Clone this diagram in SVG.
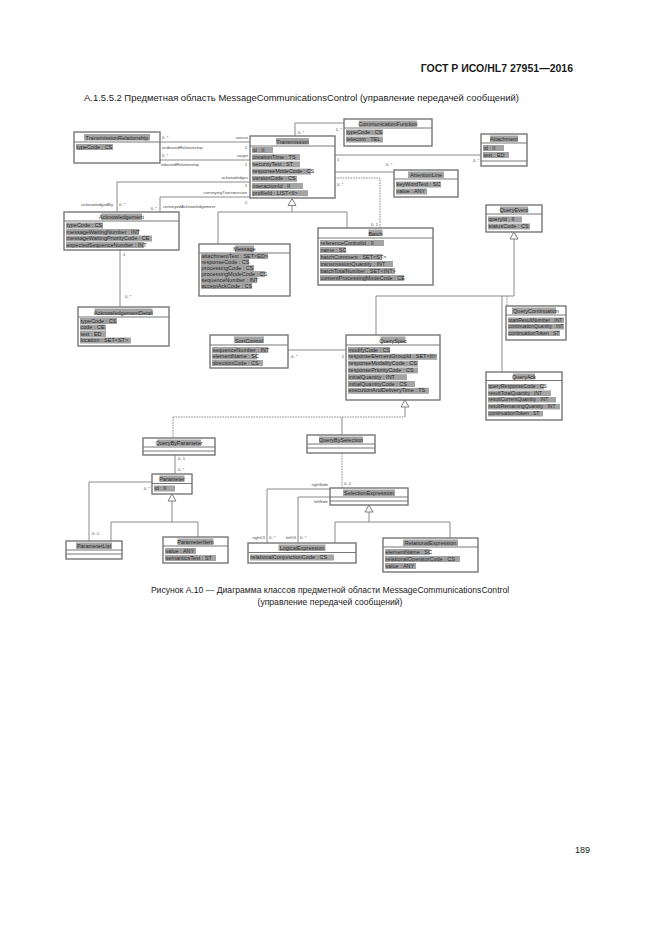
<svg xmlns="http://www.w3.org/2000/svg" width="661" height="935" viewBox="0 0 661 935">
<style>
.bg{fill:#ffffff}
.b{fill:#ffffff;stroke:#767676;stroke-width:1.4}
.s{stroke:#767676;stroke-width:1}
.hl{fill:#a4a4a4}
.t{font-family:"Liberation Sans",Arial,sans-serif;font-size:5.5px;fill:#262626}
.t5{font-family:"Liberation Sans",Arial,sans-serif;font-size:5px;fill:#262626}
.n{font-family:"Liberation Sans",Arial,sans-serif;font-size:5.5px;fill:#262626;text-anchor:middle}
.c{fill:none;stroke:#7e7e7e;stroke-width:0.9}
.d{stroke-dasharray:1.6 1}
.l{font-family:"Liberation Sans",Arial,sans-serif;font-size:4.2px;fill:#4a4a4a}
.le{font-family:"Liberation Sans",Arial,sans-serif;font-size:4.2px;fill:#4a4a4a;text-anchor:end}
.tri{fill:#ffffff;stroke:#707070;stroke-width:0.9}
.doc{font-family:"Liberation Sans",Arial,sans-serif;fill:#1a1a1a}
</style>
<rect class="bg" x="0" y="0" width="661" height="935"/>

<text class="doc" x="573" y="72" font-size="10.5" font-weight="bold" text-anchor="end">ГОСТ Р ИСО/HL7 27951—2016</text>
<text class="doc" x="84" y="101" font-size="8.6" textLength="435" lengthAdjust="spacingAndGlyphs">A.1.5.5.2 Предметная область MessageCommunicationsControl (управление передачей сообщений)</text>

<g id="connectors">
<path class="c" d="M160 142H250"/>
<path class="c" d="M160 160H250"/>
<path class="c" d="M250 182H117V212"/>
<path class="c" d="M250 197H160V212"/>
<path class="c" d="M120 250V307"/>
<path class="c" d="M295 136V123H344"/>
<path class="c" d="M335 155H481"/>
<path class="c" d="M335 172H394"/>
<path class="c d" d="M335 178H380V228"/>
<polygon class="tri" points="292,198.5 288,205.5 296,205.5"/>
<path class="c" d="M292 205.5V212M218 212H347M218 212V244M347 212V228"/>
<polygon class="tri" points="514,232 510,239 518,239"/>
<path class="c" d="M514 239V296H376V335"/>
<path class="c d" d="M507 296V306"/>
<path class="c" d="M502 296V372"/>
<path class="c" d="M288 350H346"/>
<polygon class="tri" points="405,400 401,407 409,407"/>
<path class="c" d="M405 407V417"/>
<path class="c d" d="M173 417H405M173 417V438"/>
<path class="c" d="M342 417V435"/>
<path class="c" d="M175 455V474"/>
<polygon class="tri" points="172,494 168,501 176,501"/>
<path class="c" d="M172 501V522M111 522H198M111 522V541M198 522V537"/>
<path class="c" d="M152 482H89V541"/>
<path class="c d" d="M342 453V488"/>
<path class="c" d="M330 489H267V543"/>
<path class="c" d="M330 497H298V543"/>
<polygon class="tri" points="369,505 365,512 373,512"/>
<path class="c" d="M369 512V522M335 522H450M335 522V543M450 522V538"/>

<text class="l" x="162" y="139">0..*</text>
<text class="le" x="248" y="139">source</text>
<text class="l" x="162" y="148.5">outboundRelationship</text>
<text class="le" x="247" y="148.5">1</text>
<text class="l" x="162" y="157">0..*</text>
<text class="le" x="248" y="157">target</text>
<text class="l" x="161" y="166">inboundRelationship</text>
<text class="le" x="247" y="166">1</text>
<text class="le" x="248" y="179">acknowledges</text>
<text class="le" x="247" y="187">1</text>
<text class="le" x="113" y="205.5">acknowledgedBy</text>
<text class="l" x="119" y="205.5">0..*</text>
<text class="le" x="247" y="194">conveyingTransmission</text>
<text class="le" x="247" y="203.5">1</text>
<text class="le" x="157" y="209.5">0..*</text>
<text class="l" x="163" y="208">conveyedAcknowledgement</text>
<text class="l" x="123" y="256">1</text>
<text class="l" x="125" y="298">0..*</text>
<text class="l" x="298" y="134">0..*</text>
<text class="le" x="342" y="131">1..*</text>
<text class="l" x="337" y="161">1</text>
<text class="l" x="473" y="162">0..*</text>
<text class="l" x="386" y="166">0..*</text>
<text class="l" x="337" y="186">0..*</text>
<text class="le" x="378" y="226">0..1</text>
<text class="l" x="291" y="358">0..*</text>
<text class="le" x="344" y="358">1</text>
<text class="l" x="178" y="460">0..1</text>
<text class="l" x="178" y="471">0..*</text>
<text class="le" x="150" y="490">0..*</text>
<text class="l" x="92" y="535">0..1</text>
<text class="le" x="328" y="486">rightSide</text>
<text class="l" x="344" y="485">0..1</text>
<text class="le" x="328" y="503">leftSide</text>
<text class="le" x="265" y="539">rightOf</text>
<text class="l" x="269" y="539">0..*</text>
<text class="le" x="296" y="539">leftOf</text>
<text class="l" x="300" y="539">0..*</text>
</g>

<g id="TransmissionRelationship">
<rect class="b" x="74" y="132" width="86" height="31"/>
<line class="s" x1="74" y1="142" x2="160" y2="142"/>
<rect class="hl" x="84" y="134" width="66" height="6.5"/>
<text class="n" x="117" y="139.5">TransmissionRelationship</text>
<rect class="hl" x="76" y="144" width="37" height="6"/>
<text class="t" x="76.5" y="148.8">typeCode : CS</text>
</g>

<g id="Transmission">
<rect class="b" x="250" y="136" width="85" height="62"/>
<line class="s" x1="250" y1="146" x2="335" y2="146"/>
<rect class="hl" x="276" y="138" width="33" height="6.5"/>
<text class="n" x="292.5" y="143.5">Transmission</text>
<rect class="hl" x="252" y="147" width="21" height="6"/>
<text class="t" x="252.5" y="151.5">id : II</text>
<rect class="hl" x="252" y="154.2" width="48" height="6"/>
<text class="t" x="252.5" y="158.7">creationTime : TS</text>
<rect class="hl" x="252" y="161.4" width="48" height="6"/>
<text class="t" x="252.5" y="165.9">securityText : ST</text>
<rect class="hl" x="252" y="168.6" width="59" height="6"/>
<text class="t" x="252.5" y="173.1">responseModeCode : CS</text>
<rect class="hl" x="252" y="175.8" width="45" height="6"/>
<text class="t" x="252.5" y="180.3">versionCode : CS</text>
<rect class="hl" x="252" y="183" width="51" height="6"/>
<text class="t" x="252.5" y="187.5">interactionId : II</text>
<rect class="hl" x="252" y="190.2" width="56" height="6"/>
<text class="t" x="252.5" y="194.7">profileId : LIST&lt;II&gt;</text>
</g>

<g id="CommunicationFunction">
<rect class="b" x="344" y="119" width="88" height="27"/>
<line class="s" x1="344" y1="128" x2="432" y2="128"/>
<rect class="hl" x="359" y="120.5" width="58" height="6.5"/>
<text class="n" x="388" y="126">CommunicationFunction</text>
<rect class="hl" x="346" y="129.5" width="37" height="6"/>
<text class="t" x="346.5" y="134">typeCode : CS</text>
<rect class="hl" x="346" y="136.5" width="37" height="6"/>
<text class="t" x="346.5" y="141">telecom : TEL</text>
</g>

<g id="Attachment">
<rect class="b" x="481" y="134" width="46" height="32"/>
<line class="s" x1="481" y1="143" x2="527" y2="143"/>
<line class="s" x1="481" y1="161" x2="527" y2="161"/>
<rect class="hl" x="490" y="135.5" width="28" height="6.5"/>
<text class="n" x="504" y="141">Attachment</text>
<rect class="hl" x="483" y="145" width="21" height="6"/>
<text class="t" x="483.5" y="149.5">id : II</text>
<rect class="hl" x="483" y="152" width="26" height="6"/>
<text class="t" x="483.5" y="156.5">text : ED</text>
</g>

<g id="AttentionLine">
<rect class="b" x="394" y="170" width="64" height="27"/>
<line class="s" x1="394" y1="179" x2="458" y2="179"/>
<rect class="hl" x="408" y="171.5" width="36" height="6.5"/>
<text class="n" x="426" y="177">AttentionLine</text>
<rect class="hl" x="396" y="181.5" width="45" height="6"/>
<text class="t" x="396.5" y="186">keyWordText : SC</text>
<rect class="hl" x="396" y="188.5" width="31" height="6"/>
<text class="t" x="396.5" y="193">value : ANY</text>
</g>

<g id="QueryEvent">
<rect class="b" x="486" y="205" width="56" height="27"/>
<line class="s" x1="486" y1="214" x2="542" y2="214"/>
<rect class="hl" x="500" y="206.5" width="28" height="6.5"/>
<text class="n" x="514" y="212">QueryEvent</text>
<rect class="hl" x="488" y="216.5" width="34" height="6"/>
<text class="t" x="488.5" y="221">queryId : II</text>
<rect class="hl" x="488" y="223.5" width="42" height="6"/>
<text class="t" x="488.5" y="228">statusCode : CS</text>
</g>

<g id="Acknowledgement">
<rect class="b" x="64" y="212" width="115" height="38"/>
<line class="s" x1="64" y1="221" x2="179" y2="221"/>
<rect class="hl" x="101" y="213.5" width="41" height="6.5"/>
<text class="n" x="121.5" y="219">Acknowledgement</text>
<rect class="hl" x="66" y="222.5" width="37" height="6"/>
<text class="t" x="66.5" y="227">typeCode : CS</text>
<rect class="hl" x="66" y="229" width="73" height="6"/>
<text class="t" x="66.5" y="233.5">messageWaitingNumber : INT</text>
<rect class="hl" x="66" y="235.5" width="86" height="6"/>
<text class="t" x="66.5" y="240">messageWaitingPriorityCode : CE</text>
<rect class="hl" x="66" y="242" width="78" height="6"/>
<text class="t" x="66.5" y="246.5">expectedSequenceNumber : INT</text>
</g>

<g id="AcknowledgementDetail">
<rect class="b" x="78" y="307" width="91" height="39"/>
<line class="s" x1="78" y1="317" x2="169" y2="317"/>
<rect class="hl" x="94.5" y="308.5" width="58" height="6.5"/>
<text class="n" x="123.5" y="314.5">AcknowledgementDetail</text>
<rect class="hl" x="80" y="318" width="37" height="6"/>
<text class="t" x="80.5" y="322.5">typeCode : CS</text>
<rect class="hl" x="80" y="324.5" width="26" height="6"/>
<text class="t" x="80.5" y="329">code : CE</text>
<rect class="hl" x="80" y="331" width="26" height="6"/>
<text class="t" x="80.5" y="335.5">text : ED</text>
<rect class="hl" x="80" y="337.5" width="51" height="6"/>
<text class="t" x="80.5" y="342">location : SET&lt;ST&gt;</text>
</g>

<g id="Message">
<rect class="b" x="199" y="244" width="91" height="52"/>
<line class="s" x1="199" y1="253" x2="290" y2="253"/>
<rect class="hl" x="235" y="245.5" width="19" height="6.5"/>
<text class="n" x="244.5" y="251">Message</text>
<rect class="hl" x="201" y="253" width="67" height="6"/>
<text class="t" x="201.5" y="257.5">attachmentText : SET&lt;ED&gt;</text>
<rect class="hl" x="201" y="259" width="48" height="6"/>
<text class="t" x="201.5" y="263.5">responseCode : CS</text>
<rect class="hl" x="201" y="265" width="53" height="6"/>
<text class="t" x="201.5" y="269.5">processingCode : CS</text>
<rect class="hl" x="201" y="271" width="64" height="6"/>
<text class="t" x="201.5" y="275.5">processingModeCode : CS</text>
<rect class="hl" x="201" y="277" width="56" height="6"/>
<text class="t" x="201.5" y="281.5">sequenceNumber : INT</text>
<rect class="hl" x="201" y="283" width="51" height="6"/>
<text class="t" x="201.5" y="287.5">acceptAckCode : CS</text>
</g>

<g id="Batch">
<rect class="b" x="318" y="228" width="115" height="57"/>
<line class="s" x1="318" y1="238" x2="433" y2="238"/>
<rect class="hl" x="368.5" y="229.5" width="14" height="6.5"/>
<text class="n" x="375.5" y="235.5">Batch</text>
<rect class="hl" x="320" y="240" width="64" height="6"/>
<text class="t" x="320.5" y="244.5">referenceControlId : II</text>
<rect class="hl" x="320" y="247" width="26" height="6"/>
<text class="t" x="320.5" y="251.5">name : SC</text>
<rect class="hl" x="320" y="254" width="62" height="6"/>
<text class="t" x="320.5" y="258.5">batchComment : SET&lt;ST&gt;</text>
<rect class="hl" x="320" y="261" width="73" height="6"/>
<text class="t" x="320.5" y="265.5">transmissionQuantity : INT</text>
<rect class="hl" x="320" y="268" width="75" height="6"/>
<text class="t" x="320.5" y="272.5">batchTotalNumber : SET&lt;INT&gt;</text>
<rect class="hl" x="320" y="275" width="84" height="6"/>
<text class="t" x="320.5" y="279.5">contentProcessingModeCode : CE</text>
</g>

<g id="QueryContinuation">
<rect class="b" x="506" y="306" width="60" height="34"/>
<line class="s" x1="506" y1="315" x2="566" y2="315"/>
<rect class="hl" x="512" y="307.5" width="44" height="6.5"/>
<text class="n" x="536" y="313">QueryContinuation</text>
<rect class="hl" x="508" y="317.5" width="56" height="5.5"/>
<text class="t5" x="508.5" y="321.5">startResultNumber : INT</text>
<rect class="hl" x="508" y="324" width="56" height="5.5"/>
<text class="t5" x="508.5" y="328" textLength="55" lengthAdjust="spacingAndGlyphs">continuationQuantity : INT</text>
<rect class="hl" x="508" y="330.5" width="52" height="5.5"/>
<text class="t5" x="508.5" y="334.5">continuationToken : ST</text>
</g>

<g id="QueryAck">
<rect class="b" x="486" y="372" width="76" height="48"/>
<line class="s" x1="486" y1="380.5" x2="562" y2="380.5"/>
<rect class="hl" x="513" y="373.5" width="22" height="6"/>
<text class="n" x="524" y="378.5">QueryAck</text>
<rect class="hl" x="488" y="384" width="56" height="5.5"/>
<text class="t5" x="488.5" y="388">queryResponseCode : CS</text>
<rect class="hl" x="488" y="390.5" width="63" height="5.5"/>
<text class="t5" x="488.5" y="394.5">resultTotalQuantity : INT</text>
<rect class="hl" x="488" y="397" width="68" height="5.5"/>
<text class="t5" x="488.5" y="401">resultCurrentQuantity : INT</text>
<rect class="hl" x="488" y="404" width="72" height="5.5"/>
<text class="t5" x="488.5" y="408">resultRemainingQuantity : INT</text>
<rect class="hl" x="488" y="411" width="55" height="5.5"/>
<text class="t5" x="488.5" y="415">continuationToken : ST</text>
</g>

<g id="QuerySpec">
<rect class="b" x="346" y="335" width="94" height="65"/>
<line class="s" x1="346" y1="345" x2="440" y2="345"/>
<rect class="hl" x="380.5" y="336.5" width="25" height="6.5"/>
<text class="n" x="393" y="342.5">QuerySpec</text>
<rect class="hl" x="348" y="347" width="42" height="6"/>
<text class="t" x="348.5" y="351.5">modifyCode : CS</text>
<rect class="hl" x="348" y="353.8" width="89" height="6"/>
<text class="t" x="348.5" y="358.3">responseElementGroupId : SET&lt;II&gt;</text>
<rect class="hl" x="348" y="360.6" width="70" height="6"/>
<text class="t" x="348.5" y="365.1">responseModalityCode : CS</text>
<rect class="hl" x="348" y="367.4" width="70" height="6"/>
<text class="t" x="348.5" y="371.9">responsePriorityCode : CS</text>
<rect class="hl" x="348" y="374.2" width="59" height="6"/>
<text class="t" x="348.5" y="378.7">initialQuantity : INT</text>
<rect class="hl" x="348" y="381" width="67" height="6"/>
<text class="t" x="348.5" y="385.5">initialQuantityCode : CS</text>
<rect class="hl" x="348" y="387.8" width="81" height="6"/>
<text class="t" x="348.5" y="392.3">executionAndDeliveryTime : TS</text>
</g>

<g id="SortControl">
<rect class="b" x="210" y="335" width="78" height="33"/>
<line class="s" x1="210" y1="345" x2="288" y2="345"/>
<rect class="hl" x="234" y="336.5" width="30" height="6.5"/>
<text class="n" x="249" y="342.5">SortControl</text>
<rect class="hl" x="212" y="347" width="56" height="6"/>
<text class="t" x="212.5" y="351.5">sequenceNumber : INT</text>
<rect class="hl" x="212" y="353.5" width="45" height="6"/>
<text class="t" x="212.5" y="358">elementName : SC</text>
<rect class="hl" x="212" y="360" width="51" height="6"/>
<text class="t" x="212.5" y="364.5">directionCode : CS</text>
</g>

<g id="QueryByParameter">
<rect class="b" x="143" y="438" width="72" height="17"/>
<line class="s" x1="143" y1="447" x2="215" y2="447"/>
<line class="s" x1="143" y1="451" x2="215" y2="451"/>
<rect class="hl" x="157" y="439.5" width="44" height="6.5"/>
<text class="n" x="179" y="445">QueryByParameter</text>
</g>

<g id="QueryBySelection">
<rect class="b" x="307" y="435" width="68" height="18"/>
<line class="s" x1="307" y1="444" x2="375" y2="444"/>
<line class="s" x1="307" y1="448" x2="375" y2="448"/>
<rect class="hl" x="319" y="436.5" width="44" height="6.5"/>
<text class="n" x="341" y="442">QueryBySelection</text>
</g>

<g id="Parameter">
<rect class="b" x="152" y="474" width="40" height="20"/>
<line class="s" x1="152" y1="483.5" x2="192" y2="483.5"/>
<rect class="hl" x="159.5" y="475.5" width="25" height="6.5"/>
<text class="n" x="172" y="481">Parameter</text>
<rect class="hl" x="154" y="485.5" width="21" height="6"/>
<text class="t" x="154.5" y="490">id : II</text>
</g>

<g id="ParameterList">
<rect class="b" x="66" y="541" width="56" height="18"/>
<line class="s" x1="66" y1="550" x2="122" y2="550"/>
<line class="s" x1="66" y1="554" x2="122" y2="554"/>
<rect class="hl" x="76" y="542.5" width="36" height="6.5"/>
<text class="n" x="94" y="548">ParameterList</text>
</g>

<g id="ParameterItem">
<rect class="b" x="163" y="537" width="65" height="26"/>
<line class="s" x1="163" y1="546" x2="228" y2="546"/>
<rect class="hl" x="177.5" y="538.5" width="36" height="6.5"/>
<text class="n" x="195.5" y="544">ParameterItem</text>
<rect class="hl" x="165" y="548" width="31" height="6"/>
<text class="t" x="165.5" y="552.5">value : ANY</text>
<rect class="hl" x="165" y="555" width="51" height="6"/>
<text class="t" x="165.5" y="559.5">semanticsText : ST</text>
</g>

<g id="SelectionExpression">
<rect class="b" x="330" y="488" width="78" height="17"/>
<line class="s" x1="330" y1="497" x2="408" y2="497"/>
<line class="s" x1="330" y1="501" x2="408" y2="501"/>
<rect class="hl" x="343" y="489.5" width="52" height="6.5"/>
<text class="n" x="369" y="495">SelectionExpression</text>
</g>

<g id="LogicalExpression">
<rect class="b" x="248" y="543" width="108" height="20"/>
<line class="s" x1="248" y1="552.5" x2="356" y2="552.5"/>
<rect class="hl" x="278.5" y="544.5" width="47" height="6.5"/>
<text class="n" x="302" y="550">LogicalExpression</text>
<rect class="hl" x="250" y="554.5" width="84" height="6"/>
<text class="t" x="250.5" y="559">relationalConjunctionCode : CS</text>
</g>

<g id="RelationalExpression">
<rect class="b" x="383" y="538" width="95" height="34"/>
<line class="s" x1="383" y1="547" x2="478" y2="547"/>
<rect class="hl" x="403" y="539.5" width="55" height="6.5"/>
<text class="n" x="430.5" y="545">RelationalExpression</text>
<rect class="hl" x="385" y="549" width="45" height="6"/>
<text class="t" x="385.5" y="553.5">elementName : SC</text>
<rect class="hl" x="385" y="556" width="75" height="6"/>
<text class="t" x="385.5" y="560.5">relationalOperatorCode : CS</text>
<rect class="hl" x="385" y="563" width="31" height="6"/>
<text class="t" x="385.5" y="567.5">value : ANY</text>
</g>

<text class="doc" x="330" y="593" font-size="8.6" text-anchor="middle">Рисунок A.10 — Диаграмма классов предметной области MessageCommunicationsControl</text>
<text class="doc" x="330" y="605" font-size="8.6" text-anchor="middle">(управление передачей сообщений)</text>
<text class="doc" x="590" y="853" font-size="9" text-anchor="end">189</text>
</svg>
